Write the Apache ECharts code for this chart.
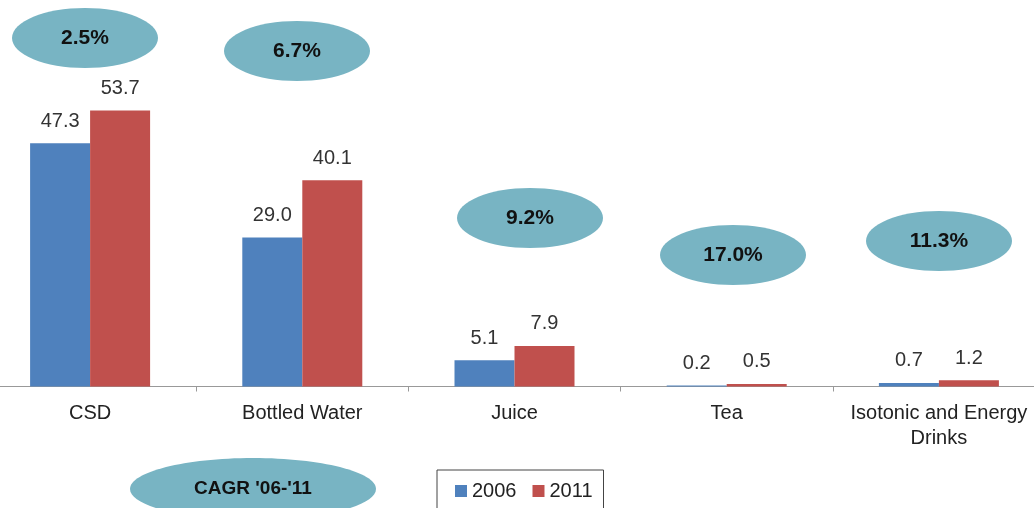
<!DOCTYPE html>
<html>
<head>
<meta charset="utf-8">
<script src="https://cdn.jsdelivr.net/npm/echarts@6/dist/echarts.min.js"></script>
<style>
  html, body { margin: 0; padding: 0; background: #fff; }
  #chart { width: 1034px; height: 508px; }
</style>
</head>
<body>
<div id="chart"></div>
<script>
// categories and values
var categories = ['CSD', 'Bottled Water', 'Juice', 'Tea', 'Isotonic and Energy\nDrinks'];
var values2006 = [47.3, 29.0, 5.1, 0.2, 0.7];
var values2011 = [53.7, 40.1, 7.9, 0.5, 1.2];
var cagr = ['2.5%', '6.7%', '9.2%', '17.0%', '11.3%'];
var cagrTitle = "CAGR '06-'11";

// where the CAGR bubbles sit (px)
var bubblePos = [[85, 38], [297, 51], [530, 218], [733, 255], [939, 241]];

var FONT = '"Liberation Sans", Arial, sans-serif';
var BUBBLE = '#78b4c3';

function bubble(cx, cy, rx, ry, text, size) {
  return {
    type: 'group',
    children: [
      { type: 'ellipse', shape: { cx: cx, cy: cy, rx: rx, ry: ry }, style: { fill: BUBBLE } },
      {
        type: 'text',
        x: cx, y: cy,
        style: {
          text: text, fill: '#111', font: 'bold ' + size + 'px ' + FONT,
          align: 'center', verticalAlign: 'middle'
        }
      }
    ]
  };
}

var graphics = cagr.map(function (t, i) {
  return bubble(bubblePos[i][0], bubblePos[i][1], 73, 30, t, 21);
});
graphics.push(bubble(253, 489, 123, 31, cagrTitle, 19));

var chart = echarts.init(document.getElementById('chart'));

var valueLabel = {
  show: true,
  position: 'top',
  distance: 12,
  color: '#333',
  fontFamily: FONT,
  fontSize: 20,
  formatter: function (p) { return p.value.toFixed(1); }
};

chart.setOption({
  backgroundColor: '#fff',
  animation: false,
  grid: { left: -16, right: -11, top: 78, bottom: 121.5, outerBoundsMode: 'none', containLabel: false },
  legend: {
    left: 437,
    top: 470,
    padding: [11, 11, 11, 18],
    borderColor: '#444',
    borderWidth: 1,
    icon: 'rect',
    itemWidth: 12,
    itemHeight: 12,
    itemGap: 16,
    textStyle: { color: '#222', fontSize: 20, fontFamily: FONT },
    data: ['2006', '2011']
  },
  xAxis: {
    type: 'category',
    data: categories,
    axisLine: { lineStyle: { color: '#999', width: 1 } },
    axisTick: { show: true, length: 5, lineStyle: { color: '#999' } },
    axisLabel: { color: '#222', fontSize: 20, fontFamily: FONT, margin: 14, lineHeight: 25, interval: 0 }
  },
  yAxis: {
    type: 'value',
    min: 0,
    max: 60,
    show: false,
    splitLine: { show: false }
  },
  series: [
    {
      name: '2006',
      type: 'bar',
      data: values2006,
      barWidth: 60,
      barGap: '0%',
      itemStyle: { color: '#4f81bd' },
      label: valueLabel
    },
    {
      name: '2011',
      type: 'bar',
      data: values2011,
      barWidth: 60,
      itemStyle: { color: '#c0504d' },
      label: valueLabel
    }
  ],
  graphic: graphics
});
</script>
</body>
</html>
